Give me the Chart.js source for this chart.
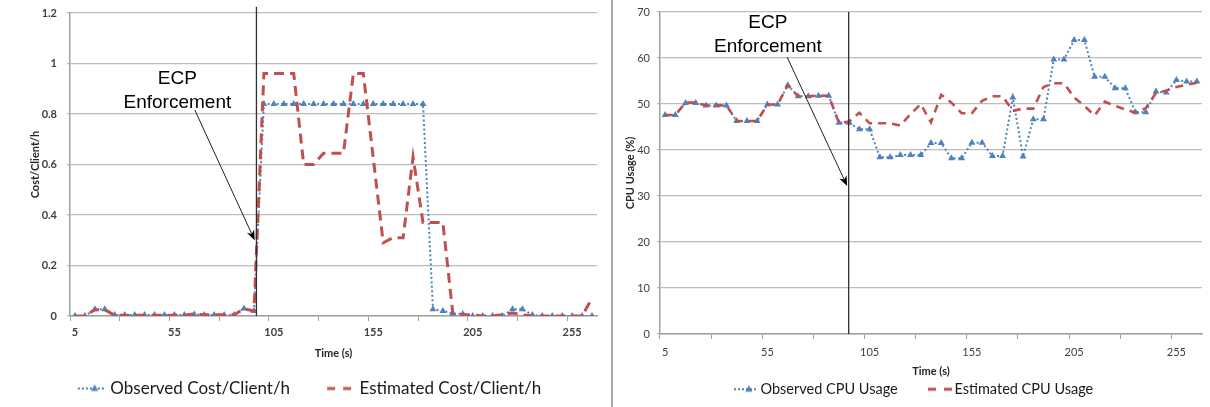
<!DOCTYPE html>
<html><head><meta charset="utf-8">
<script src="https://cdn.jsdelivr.net/npm/chart.js@4/dist/chart.umd.min.js"></script>
<style>
html,body{margin:0;padding:0;background:#fff;}
#wrap{position:relative;width:1210px;height:407px;overflow:hidden;}
#left{position:absolute;left:0;top:0;width:610px;height:407px;}
#right{position:absolute;left:612px;top:0;width:598px;height:407px;}
#divider{position:absolute;left:611px;top:0;width:2px;height:407px;background:#a8a8a8;}
</style></head>
<body>
<div id="wrap">
  <div id="left"><canvas id="c1" width="610" height="407"></canvas></div>
  <div id="divider"></div>
  <div id="right"><canvas id="c2" width="598" height="407"></canvas></div>
</div>
<script>
// ---------- DATA ----------
const times = ['5','10','15','20','25','30','35','40','45','50','55','60','65','70','75','80','85','90','95','100',
  '105','110','115','120','125','130','135','140','145','150','155','160','165','170','175','180','185','190','195','200',
  '205','210','215','220','225','230','235','240','245','250','255','260','265'];

const costObserved = [0,0,0.027,0.027,0.004,0.004,0.004,0.004,0.004,0.004,0.004,0.004,0.006,0.004,0.004,0.004,0.004,0.03,0.02,
  0.84,0.84,0.84,0.84,0.84,0.84,0.84,0.84,0.84,0.84,0.84,0.84,0.84,0.84,0.84,0.84,0.84,
  0.027,0.02,0.01,0.008,0,0,0,0,0.027,0.027,0.004,0,0,0,0,0,0];

const costEstimated = [0,0,0.025,0.025,0.002,0.003,0.003,0.003,0.003,0.003,0.003,0.003,0.008,0.005,0.005,0.005,0.005,0.028,0.02,
  0.96,0.96,0.96,0.96,0.60,0.60,0.645,0.645,0.645,0.96,0.96,0.625,0.29,0.31,0.31,0.63,0.37,0.37,0.37,
  0.01,0.005,0.005,0,0,0.005,0.012,0.005,0,0,0,0,0,0,0.07];

const cpuObserved = [47.6,47.6,50.2,50.2,49.7,49.7,49.7,46.3,46.3,46.3,49.9,49.9,54.1,51.7,51.7,51.8,51.8,45.9,45.9,
  44.5,44.5,38.4,38.4,38.9,38.9,38.9,41.5,41.5,38.2,38.2,41.6,41.6,38.7,38.7,51.4,38.6,46.7,46.7,
  59.7,59.7,63.9,63.9,55.9,55.9,53.4,53.4,48.2,48.2,52.7,52.5,55.2,54.9,54.9];

const cpuEstimated = [47.6,47.6,50.3,50.3,49.7,49.7,49.7,46.3,46.3,46.3,49.9,49.9,54.1,51.7,51.7,51.8,51.8,45.9,46.2,
  48.1,45.8,45.8,45.8,45.3,47.8,50.0,46.0,52.0,50.3,48.0,48.0,50.7,51.7,51.7,48.5,49.0,49.0,
  53.7,54.5,54.5,51.4,49.6,47.5,50.5,49.6,48.8,48.1,49.1,52.4,52.9,53.7,54.2,54.6];

const costTicks = [0, 0.2, 0.4, 0.6, 0.8, 1, 1.2];
const cpuTicks = [0, 10, 20, 30, 40, 50, 60, 70];

const costLegend = ['Observed Cost/Client/h', 'Estimated Cost/Client/h'];
const cpuLegend = ['Observed CPU Usage', 'Estimated CPU Usage'];
const annotationText = ['ECP', 'Enforcement'];

// ---------- STYLE ----------
const BLUE = '#4F81BD', RED = '#C0504D', GRID = '#BDBDBD', AXIS = '#A0A0A0', TXT = '#404040';
Chart.defaults.font.family = 'Lato, "Liberation Sans", sans-serif';
Chart.defaults.color = TXT;

function sampleImg(kind, I, S, h) {
  const c = document.createElement('canvas');
  c.width = I; c.height = h;
  const g = c.getContext('2d');
  const x0 = I - S, cy = h / 2;
  if (kind === 'obs') {
    g.strokeStyle = BLUE; g.lineWidth = 2; g.setLineDash([2, 2]);
    g.beginPath(); g.moveTo(x0, cy); g.lineTo(I, cy); g.stroke();
    const cx = x0 + S * 0.62, r = 4;
    g.fillStyle = BLUE; g.beginPath();
    g.moveTo(cx, cy - r); g.lineTo(cx + r * 0.9, cy + r * 0.6); g.lineTo(cx - r * 0.9, cy + r * 0.6); g.closePath(); g.fill();
  } else {
    g.strokeStyle = RED; g.lineWidth = 3; g.setLineDash([8, 8]);
    g.beginPath(); g.moveTo(x0, cy); g.lineTo(I, cy); g.stroke();
  }
  return c;
}

const ecpPlugin = {
  id: 'ecp',
  afterLayout(chart, args, o) {
    const L = chart.legend;
    if (L) { L.left += o.legendShift; L.right += o.legendShift; }
  },
  afterDatasetsDraw(chart, args, o) {
    const {ctx} = chart, x = chart.scales.x, y = chart.scales.y;
    ctx.save();
    const lx = x.getPixelForValue(o.lineIdx);
    ctx.strokeStyle = '#303030'; ctx.lineWidth = 1.3;
    ctx.beginPath(); ctx.moveTo(lx, y.getPixelForValue(o.lineTop)); ctx.lineTo(lx, y.getPixelForValue(0)); ctx.stroke();
    const x1 = x.getPixelForValue(o.fromIdx), y1 = y.getPixelForValue(o.fromVal);
    const x2 = x.getPixelForValue(o.toIdx), y2 = y.getPixelForValue(o.toVal);
    const a = Math.atan2(y2 - y1, x2 - x1), hl = 10, hw = 4;
    const c = Math.cos(a), s = Math.sin(a);
    ctx.strokeStyle = '#202020'; ctx.lineWidth = 1;
    ctx.beginPath(); ctx.moveTo(x1, y1); ctx.lineTo(x2 - hl * c * 0.7, y2 - hl * s * 0.7); ctx.stroke();
    ctx.fillStyle = '#000';
    ctx.beginPath(); ctx.moveTo(x2, y2);
    ctx.lineTo(x2 - hl * c - hw * s, y2 - hl * s + hw * c);
    ctx.lineTo(x2 - hl * c * 0.7, y2 - hl * s * 0.7);
    ctx.lineTo(x2 - hl * c + hw * s, y2 - hl * s - hw * c);
    ctx.closePath(); ctx.fill();
    ctx.font = '19px "Liberation Sans", Arial, sans-serif';
    ctx.textAlign = 'center'; ctx.textBaseline = 'middle'; ctx.fillStyle = '#000';
    const tx = x.getPixelForValue(o.textIdx);
    annotationText.forEach((t, k) => ctx.fillText(t, tx, y.getPixelForValue(o.textVals[k])));
    ctx.restore();
  }
};

function makeChart(id, cfg) {
  const legendImgs = [sampleImg('obs', cfg.imgW, cfg.sampleW, 14), sampleImg('est', cfg.imgW, cfg.sampleW, 14)];
  return new Chart(document.getElementById(id), {
    type: 'line',
    data: {
      labels: times,
      datasets: [
        { label: cfg.legend[0], data: cfg.obs, borderColor: BLUE, backgroundColor: BLUE, borderWidth: 2,
          borderDash: [2, 2.5], pointStyle: 'triangle', pointRadius: 4, pointBorderWidth: 0,
          pointBackgroundColor: BLUE, tension: 0, order: 1 },
        { label: cfg.legend[1], data: cfg.est, borderColor: RED, backgroundColor: RED, borderWidth: cfg.estWidth,
          borderDash: cfg.estDash, pointRadius: 0, tension: 0, order: 0 }
      ]
    },
    options: {
      responsive: false, animation: false, devicePixelRatio: 1,
      layout: { padding: cfg.pad },
      plugins: {
        tooltip: { enabled: false },
        legend: {
          position: 'bottom',
          labels: {
            usePointStyle: true, pointStyleWidth: cfg.boxW, padding: cfg.legPad, color: '#1a1a1a',
            font: { size: cfg.legFont },
            generateLabels: () => cfg.legend.map((t, i) => ({
              text: t, pointStyle: legendImgs[i], fillStyle: 'transparent', strokeStyle: 'transparent',
              lineWidth: 0, hidden: false, datasetIndex: i, fontColor: '#1a1a1a'
            }))
          }
        },
        ecp: cfg.ecp
      },
      scales: {
        x: {
          type: 'category', offset: true,
          afterFit: s => { s.height = cfg.xH; },
          grid: { display: true, drawOnChartArea: false, offset: true, tickLength: 5, lineWidth: 1,
            color: c => (c.index % 5 === 0 ? AXIS : 'rgba(0,0,0,0)') },
          border: { display: true, color: AXIS, width: 1.5 },
          ticks: { autoSkip: false, maxRotation: 0, padding: cfg.xTickPad,
            font: { size: 11, weight: cfg.tickWeight }, color: TXT,
            callback: (v, i) => (i % 10 === 0 ? times[i] : '') },
          title: { display: true, text: 'Time (s)', font: { size: 11, weight: 'bold' }, color: '#262626',
            padding: { top: 0, bottom: cfg.xTitlePad } }
        },
        y: {
          min: cfg.yTicks[0], max: cfg.yTicks[cfg.yTicks.length - 1],
          afterFit: s => { s.width = cfg.yW; s.paddingTop = 0; s.paddingBottom = 0; },
          afterBuildTicks: s => { s.ticks = cfg.yTicks.map(v => ({ value: v })); },
          grid: { color: GRID, lineWidth: 1.3, tickLength: 3 },
          border: { display: true, color: AXIS, width: 1.5 },
          ticks: { padding: cfg.yTickPad, font: { size: 11, weight: cfg.tickWeight }, color: TXT,
            callback: v => String(+Number(v).toFixed(1)) },
          title: { display: true, text: cfg.yTitle, font: { size: 11, weight: 'bold' }, color: '#262626',
            padding: { top: cfg.yTitlePad, bottom: 0 } }
        }
      }
    },
    plugins: [ecpPlugin]
  });
}

makeChart('c1', {
  obs: costObserved, est: costEstimated, legend: costLegend, yTicks: costTicks, yTitle: 'Cost/Client/h',
  pad: { top: 13, right: 13, bottom: 0, left: 0 }, yW: 70, xH: 54, yTickPad: 10, xTickPad: 4.5,
  xTitlePad: 10.4, yTitlePad: 28.4, tickWeight: 'bold', estWidth: 3, estDash: [10, 6],
  legFont: 17, legPad: 10, boxW: 51, imgW: 57, sampleW: 27,
  ecp: { lineIdx: 18.25, lineTop: 1.225, fromIdx: 12.05, fromVal: 0.816, toIdx: 18.07, toVal: 0.30,
    textIdx: 10.3, textVals: [0.938, 0.844], legendShift: -2.5 }
});

makeChart('c2', {
  obs: cpuObserved, est: cpuEstimated, legend: cpuLegend, yTicks: cpuTicks, yTitle: 'CPU Usage (%)',
  pad: { top: 12, right: 8, bottom: 0.5, left: 0 }, yW: 48, xH: 44, yTickPad: 7, xTickPad: 6.5,
  xTitlePad: 0, yTitlePad: 11.4, tickWeight: 'normal', estWidth: 2.6, estDash: [8, 6],
  legFont: 14.5, legPad: 4, boxW: 45.5, imgW: 55, sampleW: 24,
  ecp: { lineIdx: 17.95, lineTop: 70, fromIdx: 11.93, fromVal: 60.2, toIdx: 17.8, toVal: 32.2,
    textIdx: 10.05, textVals: [67.6, 62.4], legendShift: -6.5 }
});
</script>
</body></html>
